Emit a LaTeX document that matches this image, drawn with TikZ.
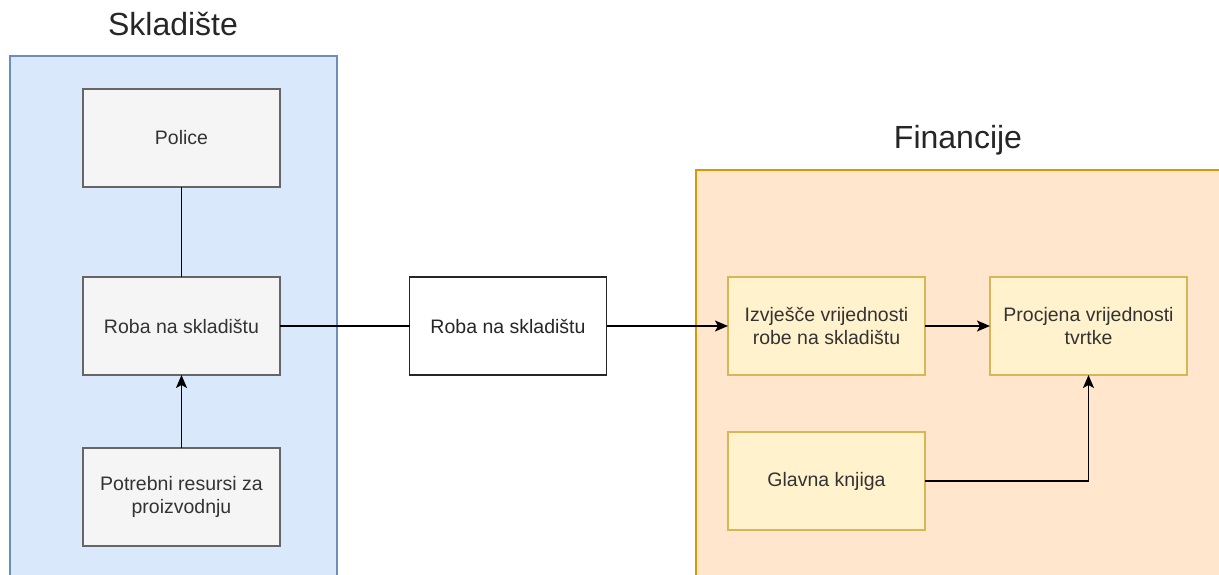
\documentclass[tikz,border=0pt]{standalone}
\usepackage{fontspec}
\setmainfont{Liberation Sans}
\usetikzlibrary{arrows.meta}
\definecolor{blueF}{HTML}{DAE8FC}
\definecolor{blueS}{HTML}{6C8EBF}
\definecolor{orF}{HTML}{FFE6CC}
\definecolor{orS}{HTML}{D79B00}
\definecolor{grF}{HTML}{F5F5F5}
\definecolor{grS}{HTML}{666666}
\definecolor{yeF}{HTML}{FFF2CC}
\definecolor{yeS}{HTML}{D6B656}
\definecolor{txt}{HTML}{333333}
\begin{document}
\begin{tikzpicture}[x=1pt,y=-1pt,
  base/.style={rectangle, minimum width=197pt, minimum height=98pt, outer sep=0pt, inner sep=2pt,
    line width=1.5pt, align=center, font=\fontsize{19.5}{23}\selectfont},
  gbox/.style={base, fill=grF, draw=grS, text=txt},
  wbox/.style={base, fill=white, draw=black!85, text=black!85},
  ybox/.style={base, fill=yeF, draw=yeS, text=txt},
  title/.style={font=\fontsize{32}{36}\selectfont, text=black!85},
  conn/.style={line width=1.6pt, draw=black},
  arr/.style={conn, -{Stealth[length=13pt,width=11pt,inset=3pt]}}
]
\useasboundingbox (0,0) rectangle (1219,575);
\fill[white] (0,0) rectangle (1219,575);
\begin{scope}
\clip (0,0) rectangle (1219,575);
\draw[fill=blueF, draw=blueS, line width=1.2pt] (10,56) rectangle (337,590);
\draw[fill=orF, draw=orS, line width=1.2pt] (696,170) rectangle (1240,590);
\end{scope}
\node[title] (tskl) at (173,24) {Skladište};
\node[title] (tfin) at (958,140) {Financije};

\node[gbox] (police) at (181.5,138) {Police};
\node[gbox] (roba1) at (181.5,326) {Roba na skladištu};
\node[gbox] (potr) at (181.5,497) {Potrebni resursi za\\proizvodnju};
\node[wbox] (roba2) at (508,326) {Roba na skladištu};
\node[ybox] (izv) at (826.5,326) {Izvješče vrijednosti\\robe na skladištu};
\node[ybox] (proc) at (1088.5,326) {Procjena vrijednosti\\tvrtke};
\node[ybox] (glav) at (826.5,481) {Glavna knjiga};

\draw[conn] (police.south) -- (roba1.north);
\draw[arr] (potr.north) -- (roba1.south);
\draw[conn] (roba1.east) -- (roba2.west);
\draw[arr] (roba2.east) -- (izv.west);
\draw[arr] (izv.east) -- (proc.west);
\draw[arr] (glav.east) -| (proc.south);
\end{tikzpicture}
\end{document}
